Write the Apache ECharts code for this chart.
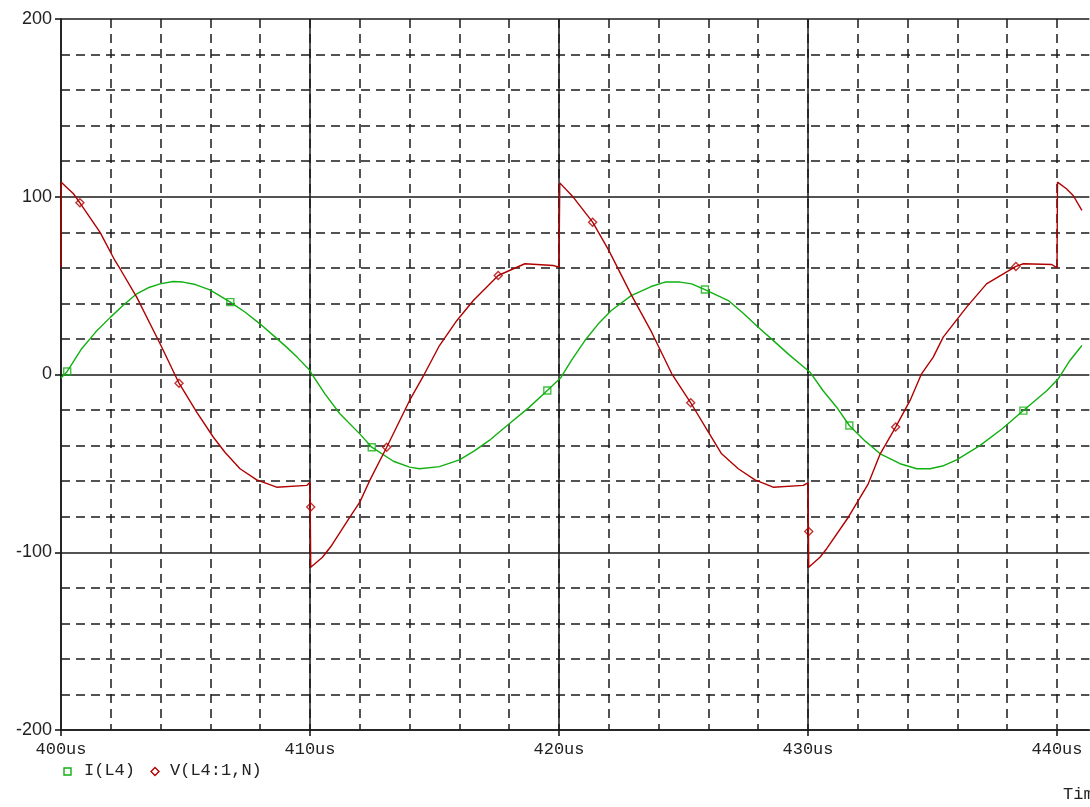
<!DOCTYPE html>
<html>
<head>
<meta charset="utf-8">
<script src="https://cdn.jsdelivr.net/npm/echarts@6/dist/echarts.min.js"></script>
<style>html,body{margin:0;padding:0;background:#fff;overflow:hidden;}#c{width:1090px;height:807px;}</style>
</head>
<body>
<div id="c"></div>
<script>
// ---- data ----
const xTicks = [400, 410, 420, 430, 440];
const yTicks = [-200, -100, 0, 100, 200];

const iTime = [400, 400.25, 400.83, 401.4, 401.97, 402.5, 403.04, 403.5, 403.98, 404.5, 404.9, 405.4, 405.98, 406.8, 407.4, 407.99, 408.5, 409.06, 409.5, 410, 410.05, 410.6, 411.2, 412.0, 412.48, 413.35, 414.0, 414.4, 415.2, 416.0, 416.6, 417.2, 418.0, 418.8, 419.53, 420.06, 420.5, 421.04, 421.58, 422.1, 422.9, 423.7, 424.26, 424.86, 425.33, 425.86, 426.8, 427.4, 428.0, 428.6, 429.2, 430.08, 430.6, 431.15, 431.66, 432.3, 432.9, 433.7, 434.37, 434.9, 435.4, 435.97, 436.9, 437.8, 438.65, 439.6, 440.05, 440.52, 441];
const iValue = [-2, 1.7, 14.5, 24, 32, 39, 45.4, 48.8, 51, 52.3, 52, 50.6, 47.6, 40.7, 35, 28.5, 22.3, 15.4, 9.5, 2.2, 0.8, -10.9, -22.1, -33.4, -40.9, -48.8, -52.1, -53, -51.8, -48, -43, -37.1, -27.7, -18.5, -9, -2, 7.9, 19.1, 28.5, 36, 44.4, 49.5, 52, 52, 51, 47.8, 41.6, 34.5, 26.6, 19.2, 11.6, 1.3, -9, -18.4, -28.7, -37.5, -44.6, -50.2, -53, -53, -51.5, -48, -40, -30.5, -20.3, -9, -2.4, 7.9, 16.3];

const vTime = [400, 400.01, 400.5, 400.76, 401.57, 402.17, 402.37, 403.04, 403.98, 404.74, 405.45, 406.12, 406.6, 407.19, 407.86, 408.66, 409.87, 410, 410.03, 410.5, 410.87, 411.6, 412.0, 412.4, 413.08, 414.0, 414.6, 415.2, 415.9, 416.56, 417.56, 418.17, 418.63, 419.77, 420.0, 420.03, 420.57, 421.35, 422.0, 422.92, 423.72, 424.53, 425.29, 426.0, 426.53, 427.2, 427.87, 428.6, 429.81, 430.0, 430.03, 430.48, 430.75, 431.62, 432.42, 432.9, 433.52, 434.1, 434.56, 435.03, 435.43, 436.37, 437.17, 438.35, 438.65, 439.79, 440.0, 440.02, 440.38, 440.65, 441.0];
const vValue = [60.4, 108.2, 101.7, 96.6, 80, 64, 59.5, 43.5, 17.3, -4.9, -21.2, -35.3, -44, -53, -59.3, -63.4, -62.4, -60.6, -108.4, -102.8, -96.2, -80.3, -71.8, -59.6, -40.9, -14.6, 0.4, 16.3, 30.4, 41.6, 55.7, 59.5, 62.3, 61.3, 60.4, 107.8, 99.8, 85.7, 69.8, 44.4, 23.8, 0.4, -15.9, -32.4, -44.6, -53, -59.3, -63.4, -62.4, -61, -108.4, -102.8, -98, -80.3, -61.5, -44.6, -29.6, -14.6, 0.4, 9.8, 21, 37.9, 51, 60.8, 62.3, 61.9, 60, 108.2, 104.5, 100.7, 92.3];

const iMarkTime = [400.25, 406.8, 412.48, 419.53, 425.86, 431.66, 438.65];
const iMarkValue = [1.7, 40.7, -40.9, -9, 47.8, -28.7, -20.3];
const vMarkTime = [400.76, 404.74, 410.03, 413.08, 417.56, 421.35, 425.29, 430.03, 433.52, 438.35];
const vMarkValue = [96.6, -4.9, -74.6, -40.9, 55.7, 85.7, -15.9, -88.3, -29.6, 60.8];

const seriesNames = ['I(L4)', 'V(L4:1,N)'];
// --------------------------------------

const zip = (a, b) => a.map((t, k) => [t, b[k]]);
const GREEN = '#10b010', RED = '#b00000', INK = '#1a1a1a';
const MONO = '"Liberation Mono", "DejaVu Sans Mono", monospace';
const SANS = '"Liberation Sans", Arial, sans-serif';
const X_MIN = 400, X_MAX = 441.3;

const chart = echarts.init(document.getElementById('c'), null, {renderer: 'canvas'});
chart.setOption({
  animation: false,
  backgroundColor: '#fff',
  grid: {left: 61, top: 19, height: 711, width: (X_MAX - X_MIN) * 24.9, containLabel: false},
  xAxis: [{
    type: 'value', min: X_MIN, max: X_MAX, interval: 10,
    axisLine: {show: true, onZero: false, lineStyle: {color: INK, width: 1.6}},
    axisTick: {show: true, length: 6, customValues: xTicks, lineStyle: {color: INK, width: 1.6}},
    axisLabel: {
      margin: 11, fontFamily: MONO, fontSize: 17, color: '#222', showMaxLabel: false,
      formatter: v => xTicks.indexOf(v) >= 0 ? v + 'us' : ''
    },
    splitLine: {show: true, showMaxLine: false, lineStyle: {color: INK, width: 1.5}},
    z: 2
  }, {
    type: 'value', min: X_MIN, max: X_MAX, interval: 2, position: 'bottom',
    axisLine: {show: false}, axisTick: {show: false}, axisLabel: {show: false},
    splitLine: {show: true, showMinLine: false, showMaxLine: false,
                lineStyle: {color: INK, width: 1.5, type: [9, 6]}},
    z: 1
  }],
  yAxis: {
    type: 'value', min: -200, max: 200, interval: 100,
    axisLine: {show: true, onZero: false, lineStyle: {color: INK, width: 1.6}},
    axisTick: {show: true, length: 6, lineStyle: {color: INK, width: 1.6}},
    axisLabel: {
      margin: 9, fontFamily: SANS, fontSize: 18, color: '#222',
      formatter: v => yTicks.indexOf(v) >= 0 ? String(v) : ''
    },
    splitLine: {show: true, lineStyle: {color: INK, width: 1.5}},
    minorTick: {show: false, splitNumber: 5},
    minorSplitLine: {show: true, lineStyle: {color: INK, width: 1.5, type: [9, 6]}}
  },
  series: [
    {name: seriesNames[0], type: 'line', data: zip(iTime, iValue), showSymbol: false,
     lineStyle: {color: GREEN, width: 1.4}, itemStyle: {color: GREEN}, z: 3},
    {name: seriesNames[1], type: 'line', data: zip(vTime, vValue), showSymbol: false,
     lineStyle: {color: RED, width: 1.4}, itemStyle: {color: RED}, z: 4},
    {name: seriesNames[0] + ' markers', type: 'scatter', data: zip(iMarkTime, iMarkValue),
     symbol: 'rect', symbolSize: 7,
     itemStyle: {color: 'rgba(0,0,0,0)', borderColor: GREEN, borderWidth: 1.4}, z: 5},
    {name: seriesNames[1] + ' markers', type: 'scatter', data: zip(vMarkTime, vMarkValue),
     symbol: 'diamond', symbolSize: [8, 8],
     itemStyle: {color: 'rgba(0,0,0,0)', borderColor: RED, borderWidth: 1.4}, z: 5}
  ],
  graphic: [
    {type: 'rect', shape: {x: 64, y: 768, width: 7, height: 7},
     style: {fill: 'none', stroke: GREEN, lineWidth: 1.4}},
    {type: 'text', left: 84, top: 762,
     style: {text: seriesNames[0], font: '17px ' + MONO, fill: '#222'}},
    {type: 'polygon', shape: {points: [[155, 767.5], [159, 771.5], [155, 775.5], [151, 771.5]]},
     style: {fill: 'none', stroke: RED, lineWidth: 1.4}},
    {type: 'text', left: 170, top: 762,
     style: {text: seriesNames[1], font: '17px ' + MONO, fill: '#222'}},
    {type: 'text', left: 1063, top: 786,
     style: {text: 'Time', font: '17px ' + MONO, fill: '#222'}}
  ]
});
</script>
</body>
</html>
